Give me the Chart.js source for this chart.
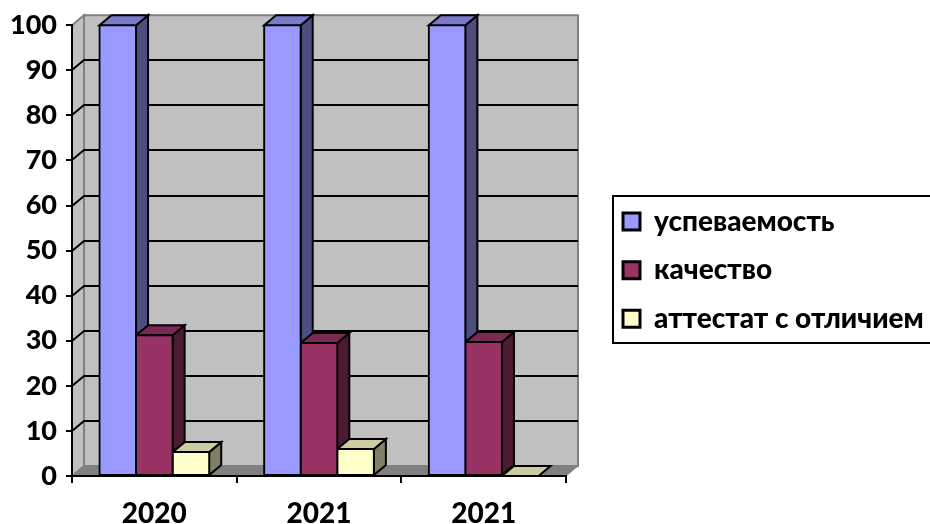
<!DOCTYPE html>
<html><head><meta charset="utf-8">
<style>html,body{margin:0;padding:0;background:#fff}canvas{display:block}</style>
<script src="https://cdn.jsdelivr.net/npm/chart.js@4/dist/chart.umd.min.js"></script>
</head><body><canvas id="c" width="930" height="524"></canvas>
<script>
const categories = ['2020', '2021', '2021'];
const seriesNames = ['успеваемость', 'качество', 'аттестат с отличием'];
const uspevaemost = [100, 100, 100];
const kachestvo = [31.2, 29.5, 29.7];
const attestat = [5.3, 6, 0];
const yTicks = { min: 0, max: 100, step: 10 };
const frontColors = ['#9999FF', '#993366', '#FFFFCC'];
const topColors = ['#7A7ACC', '#7A2952', '#CCCCA3'];
const sideColors = ['#4D4D80', '#4D1A33', '#808066'];
const FONT = 'Lato, "Open Sans", sans-serif';
const DX = 12, DY = 10;

function poly(ctx, pts, fill, stroke, lw) {
  ctx.beginPath();
  pts.forEach((p, i) => i ? ctx.lineTo(p[0], p[1]) : ctx.moveTo(p[0], p[1]));
  ctx.closePath();
  if (fill) { ctx.fillStyle = fill; ctx.fill(); }
  if (stroke) { ctx.strokeStyle = stroke; ctx.lineWidth = lw; ctx.lineJoin = 'miter'; ctx.stroke(); }
}

const walls3d = {
  id: 'walls3d',
  afterLayout(chart) {
    const l = chart.legend;
    l.left = 602.4; l.right = 930; l.top = 187; l.bottom = 420;
  },
  beforeDraw(chart) {
    const ctx = chart.ctx, a = chart.chartArea, y = chart.scales.y;
    ctx.save();
    // legend frame
    ctx.strokeStyle = '#000'; ctx.lineWidth = 2;
    ctx.strokeRect(613, 196, 330, 147);
    const L = a.left, R = a.right, T = a.top, B = a.bottom;
    // back wall, left wall, floor
    poly(ctx, [[L + DX, T - DY], [R + DX, T - DY], [R + DX, B - DY], [L + DX, B - DY]], '#C0C0C0', '#808080', 2);
    poly(ctx, [[L, T], [L + DX, T - DY], [L + DX, B - DY], [L, B]], '#C0C0C0', '#808080', 2);
    poly(ctx, [[L, B], [L + DX, B - DY], [R + DX, B - DY], [R, B]], '#808080', '#808080', 1);
    // gridlines on the wall
    ctx.strokeStyle = '#000'; ctx.lineWidth = 2;
    y.ticks.forEach(t => {
      if (t.value <= yTicks.min || t.value >= yTicks.max) return;
      const p = Math.round(y.getPixelForValue(t.value));
      ctx.beginPath();
      ctx.moveTo(L, p); ctx.lineTo(L + DX, p - DY); ctx.lineTo(R + DX, p - DY);
      ctx.stroke();
    });
    ctx.restore();
  },
  beforeDatasetsDraw(chart) {
    const ctx = chart.ctx;
    ctx.save();
    const n = chart.data.labels.length;
    for (let c = 0; c < n; c++) {
      chart.data.datasets.forEach((ds, i) => {
        const bar = chart.getDatasetMeta(i).data[c];
        const x0 = bar.x - bar.width / 2, x1 = bar.x + bar.width / 2;
        const t = bar.y, b = bar.base;
        if (b > t) poly(ctx, [[x1, t], [x1 + DX, t - DY], [x1 + DX, b - DY], [x1, b]], sideColors[i], '#000', 2);
        poly(ctx, [[x0, t], [x0 + DX, t - DY], [x1 + DX, t - DY], [x1, t]], topColors[i], '#000', 2);
      });
    }
    ctx.restore();
  }
};

new Chart(document.getElementById('c'), {
  type: 'bar',
  data: {
    labels: categories,
    datasets: [uspevaemost, kachestvo, attestat].map((values, i) => ({
      label: seriesNames[i],
      data: values,
      backgroundColor: frontColors[i],
      borderColor: '#000',
      borderWidth: 2,
      borderSkipped: false,
      inflateAmount: 1,
      categoryPercentage: 2 / 3,
      barPercentage: 1
    }))
  },
  plugins: [walls3d],
  options: {
    responsive: false,
    animation: false,
    layout: { padding: { top: 25, right: 364, left: 0, bottom: 0 } },
    scales: {
      x: {
        afterFit(s) { s.height = 48; },
        border: { color: '#000', width: 2 },
        grid: { drawOnChartArea: false, drawTicks: true, tickLength: 7, color: '#000', lineWidth: 2 },
        ticks: { color: '#000', font: { family: FONT, size: 28, weight: '900' }, padding: 14, maxRotation: 0, autoSkip: false }
      },
      y: {
        min: yTicks.min, max: yTicks.max,
        afterFit(s) { s.width = 72; },
        border: { color: '#000', width: 2 },
        grid: { drawOnChartArea: false, drawTicks: true, tickLength: 6, color: '#000', lineWidth: 2 },
        ticks: { stepSize: yTicks.step, color: '#000', font: { family: FONT, size: 27, weight: '900' }, padding: 9, autoSkip: false }
      }
    },
    plugins: {
      tooltip: { enabled: false },
      legend: {
        position: 'chartArea',
        align: 'start',
        labels: {
          boxWidth: 17, boxHeight: 17, padding: 20.6, color: '#000',
          font: { family: FONT, size: 28, weight: '900' },
          generateLabels(chart) {
            return Chart.defaults.plugins.legend.labels.generateLabels(chart).map(item => ({ ...item, lineWidth: 3 }));
          }
        }
      }
    }
  }
});
</script></body></html>
